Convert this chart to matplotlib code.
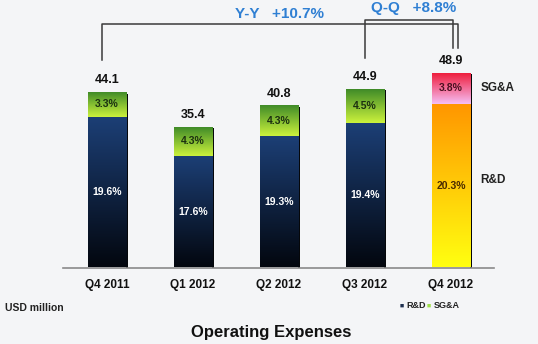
import numpy as np
import matplotlib.pyplot as plt
from matplotlib.colors import to_rgb

plt.rcParams['font.family'] = ['Liberation Sans', 'DejaVu Sans']
plt.rcParams['font.weight'] = 'bold'

# operating expenses, USD million
quarters = ['Q4 2011', 'Q1 2012', 'Q2 2012', 'Q3 2012', 'Q4 2012']
rd = [37.8, 28.0, 33.0, 36.3, 41.1]
sga = [6.3, 7.4, 7.8, 8.6, 7.8]
totals = [44.1, 35.4, 40.8, 44.9, 48.9]
rd_pct = ['19.6%', '17.6%', '19.3%', '19.4%', '20.3%']
sga_pct = ['3.3%', '4.3%', '4.3%', '4.5%', '3.8%']

# gradient colours (top, bottom)
blue = ('#1c3f76', '#03070f')
green = ('#3c8828', '#cbf23c')
orange = ('#ff9600', '#ffff10')
red = ('#ee1a38', '#f6bef4')


def fill_gradient(ax, patch, top, bottom):
    # paint a vertical gradient inside a bar patch
    x0, y0 = patch.get_x(), patch.get_y()
    w, h = patch.get_width(), patch.get_height()
    c1, c2 = np.array(to_rgb(top)), np.array(to_rgb(bottom))
    t = np.linspace(0, 1, 64)[:, None]
    img = (c1 * (1 - t) + c2 * t)[:, None, :]
    im = ax.imshow(img, extent=(x0, x0 + w, y0, y0 + h), aspect='auto',
                   origin='upper', zorder=3, interpolation='bilinear')
    im.set_clip_path(patch)


fig = plt.figure(figsize=(5.38, 3.44), dpi=100)
fig.patch.set_facecolor('#f4f5f7')
ax = fig.add_axes([63/538, 76.5/344, 431/538, 267.5/344])
ax.set_facecolor('none')

x = np.arange(len(quarters))
w = 0.442

# dark shadow strip on the right edge of each bar
ax.bar(x + w/2 + 0.012, [t - 0.4 for t in totals], width=0.024,
       color='#05070a', zorder=2)

rd_bars = ax.bar(x, rd, width=w, color='none', zorder=3)
sga_bars = ax.bar(x, sga, bottom=rd, width=w, color='none', zorder=3)

for i in range(len(quarters)):
    if i == len(quarters) - 1:
        fill_gradient(ax, rd_bars[i], *orange)
        fill_gradient(ax, sga_bars[i], *red)
        rc, sc = '#4a2a00', '#4a1020'
    else:
        fill_gradient(ax, rd_bars[i], *blue)
        fill_gradient(ax, sga_bars[i], *green)
        rc, sc = 'white', '#1c3010'
    ax.text(x[i], rd[i] / 2, rd_pct[i], ha='center', va='center',
            fontsize=7.5, color=rc, zorder=5)
    ax.text(x[i], rd[i] + sga[i] / 2, sga_pct[i], ha='center', va='center',
            fontsize=7.5, color=sc, zorder=5)
    ax.text(x[i], totals[i] + 1.4, f'{totals[i]:.1f}', ha='center',
            va='bottom', fontsize=9, color='#111111', zorder=5)

# segment names beside the last bar
ax.text(4.34, rd[4] + sga[4] / 2, 'SG&A', ha='left', va='center',
        fontsize=8.5, color='#222222')
ax.text(4.34, rd[4] / 2 + 1.5, 'R&D', ha='left', va='center',
        fontsize=8.5, color='#222222')

# growth brackets
lc = '#3a3a3a'
ax.plot([-0.058, -0.058, 4.08, 4.08],
        [totals[0] + 8.0, 61.2, 61.2, totals[4] + 6.3], color=lc, lw=1.1)
ax.plot([3.0, 3.0, 4.023, 4.023],
        [totals[3] + 7.7, 62.2, 62.2, totals[4] + 6.3], color=lc, lw=1.1)
ax.text(2.01, 63.6, 'Y-Y   +10.7%', ha='center', va='center',
        fontsize=11, color='#2f7fd3')
ax.text(3.57, 65.3, 'Q-Q   +8.8%', ha='center', va='center',
        fontsize=11, color='#2f7fd3')

ax.set_xlim(-0.512, 4.5)
ax.set_ylim(0, 67.2)
ax.set_xticks(x)
ax.set_xticklabels(quarters, fontsize=8.5, color='#111111')
ax.tick_params(axis='x', length=0, pad=8)
ax.set_yticks([])
for s in ['left', 'right', 'top']:
    ax.spines[s].set_visible(False)
ax.spines['bottom'].set_color('#8a8a8a')
ax.spines['bottom'].set_linewidth(1.2)

fig.text(5/538, 1 - 307.6/344, 'USD million', ha='left', va='center',
         fontsize=7.5, color='#222222')
fig.text(271/538, 1 - 332/344, 'Operating Expenses', ha='center',
         va='center', fontsize=12, color='#111111')

# small legend
fig.text(400/538, 1 - 306/344, '\u25a0', ha='left', va='center',
         fontsize=5, color='#1f3050')
fig.text(406/538, 1 - 306/344, 'R&D', ha='left', va='center',
         fontsize=6.5, color='#222222')
fig.text(427/538, 1 - 306/344, '\u25a0', ha='left', va='center',
         fontsize=5, color='#9ee04a')
fig.text(434/538, 1 - 306/344, 'SG&A', ha='left', va='center',
         fontsize=6.5, color='#222222')

plt.savefig('out.png', dpi=100, facecolor=fig.get_facecolor())
